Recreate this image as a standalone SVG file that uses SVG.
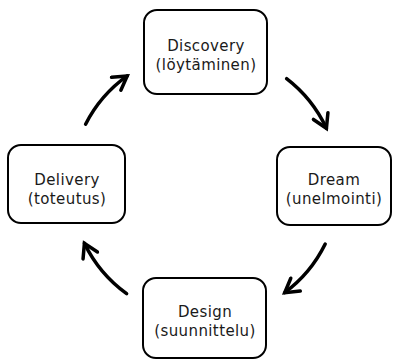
<svg xmlns="http://www.w3.org/2000/svg" width="396" height="361" viewBox="0 0 396 361">
  <style>
    .box { fill: #fff; stroke: #000; stroke-width: 2; }
    .label { font-family: "DejaVu Sans", sans-serif; font-size: 15px; letter-spacing: 0.4px; fill: #1a1a1a; text-anchor: middle; }
    .arc { fill: none; stroke: #000; stroke-width: 3.5; stroke-linecap: round; marker-end: url(#head); }
  </style>
  <defs>
    <marker id="head" markerUnits="userSpaceOnUse" viewBox="-16 -10 20 20" refX="0" refY="0" markerWidth="20" markerHeight="20" orient="auto">
      <path d="M -13.5 -8 L 0 0 L -13.5 8" fill="none" stroke="#000" stroke-width="3.5" stroke-linecap="round" stroke-linejoin="miter"/>
    </marker>
  </defs>
  <rect width="396" height="361" fill="#fff"/>

  <!-- four arcs of one circle (centre 205,185; r 134), clockwise -->
  <g id="connectors">
    <path class="arc" d="M 85.6 124.2 A 134 134 0 0 1 127.2 75.9"/>
    <path class="arc" d="M 286.6 78.7 A 134 134 0 0 1 326.4 128.3"/>
    <path class="arc" d="M 325.2 244.1 A 134 134 0 0 1 284.7 292.7"/>
    <path class="arc" d="M 126.6 293.7 A 134 134 0 0 1 84.4 243.3"/>
  </g>

  <g id="discovery">
    <rect class="box" x="144" y="10" width="123" height="84" rx="13"/>
    <text class="label" x="206" y="51">Discovery</text>
    <text class="label" x="206" y="70">(löytäminen)</text>
  </g>

  <g id="dream">
    <rect class="box" x="277" y="147" width="114" height="78" rx="13"/>
    <text class="label" x="334" y="185">Dream</text>
    <text class="label" x="334" y="204">(unelmointi)</text>
  </g>

  <g id="design">
    <rect class="box" x="143" y="278" width="123" height="80" rx="13"/>
    <text class="label" x="205" y="317">Design</text>
    <text class="label" x="205" y="336">(suunnittelu)</text>
  </g>

  <g id="delivery">
    <rect class="box" x="8" y="145" width="117" height="78" rx="13"/>
    <text class="label" x="67" y="185">Delivery</text>
    <text class="label" x="67" y="204">(toteutus)</text>
  </g>
</svg>
